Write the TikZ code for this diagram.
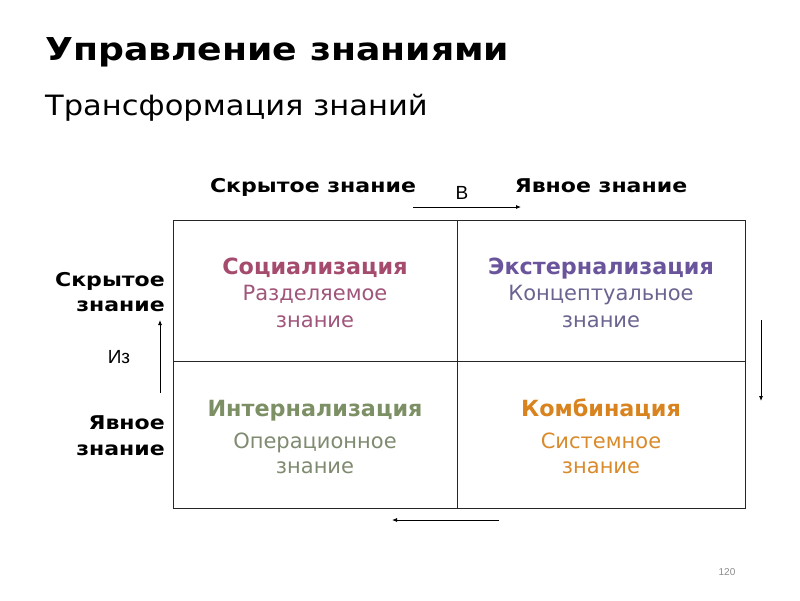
\documentclass[tikz,border=0pt]{standalone}
\usepackage{fontspec}
\setmainfont{DejaVu Sans}
\newfontfamily\arialf{Liberation Sans}
\newfontfamily\titlef[FakeStretch=1.15]{DejaVu Sans}
\newfontfamily\subf[FakeStretch=1.09]{DejaVu Sans}
\newfontfamily\hdrf[FakeStretch=1.16]{DejaVu Sans}
\usetikzlibrary{arrows.meta}
\definecolor{socc}{HTML}{A44B6E}
\definecolor{socl}{HTML}{A0557A}
\definecolor{extc}{HTML}{6A559C}
\definecolor{extl}{HTML}{6C6390}
\definecolor{intc}{HTML}{7D8F64}
\definecolor{intl}{HTML}{7F8B70}
\definecolor{comc}{HTML}{D8831E}
\definecolor{coml}{HTML}{D98B2C}
\tikzset{
  grid/.style={draw=black!85, line width=0.9pt},
  arr/.style={-{Latex[length=5pt,width=4pt]}, line width=0.8pt},
  hdr/.style={font=\hdrf\bfseries\fontsize{19}{22}\selectfont, anchor=base, inner sep=0pt},
  side/.style={font=\hdrf\bfseries\fontsize{19}{26}\selectfont, anchor=base east, inner sep=0pt},
  lbl/.style={font=\arialf\fontsize{19}{22}\selectfont, anchor=base, inner sep=0pt},
  ctitle/.style={font=\bfseries\fontsize{22.3}{24}\selectfont, anchor=base, inner sep=0pt},
  ctext/.style={font=\fontsize{21}{24}\selectfont, anchor=base, inner sep=0pt},
}
\begin{document}
\begin{tikzpicture}[x=1pt,y=-1pt]
\useasboundingbox[fill=white] (0,0) rectangle (800,600);
% titles
\node[anchor=base west, inner sep=0pt, font=\titlef\bfseries\fontsize{31.5}{36}\selectfont] (title) at (45,60) {Управление знаниями};
\node[anchor=base west, inner sep=0pt, font=\subf\fontsize{28}{34}\selectfont] (sub) at (45,115) {Трансформация знаний};
% table
\coordinate (tl) at (173,220);
\coordinate (br) at (745,508);
\draw[grid] (tl) rectangle (br);
\coordinate (vt) at (457,220);
\coordinate (vb) at (457,508);
\coordinate (hl) at (173,361);
\coordinate (hr) at (745,361);
\draw[grid] (vt) -- (vb);
\draw[grid] (hl) -- (hr);
% headers
\node[hdr] (h1) at (313,192) {Скрытое знание};
\node[hdr] (h2) at (601,192) {Явное знание};
\node[lbl] (vlab) at (462,199) {В};
\coordinate (ra) at (413,207);
\coordinate (rb) at (521,207);
\draw[arr] (ra) -- (rb);
% side labels
\node[side] (s1) at (165,286) {Скрытое};
\node[side] (s2) at (165,311) {знание};
\node[side] (s3) at (165,429) {Явное};
\node[side] (s4) at (165,455) {знание};
\node[lbl] (from) at (119,363) {Из};
\coordinate (ua) at (160,393);
\coordinate (ub) at (160,320);
\draw[arr] (ua) -- (ub);
% cells
\node[ctitle, text=socc] (c1t) at (315,274) {Социализация};
\node[ctext, text=socl] (c1a) at (315,300) {Разделяемое};
\node[ctext, text=socl] (c1b) at (315,327) {знание};
\node[ctitle, text=extc] (c2t) at (601,274) {Экстернализация};
\node[ctext, text=extl] (c2a) at (601,300) {Концептуальное};
\node[ctext, text=extl] (c2b) at (601,327) {знание};
\node[ctitle, text=intc] (c3t) at (315,416) {Интернализация};
\node[ctext, text=intl] (c3a) at (315,448) {Операционное};
\node[ctext, text=intl] (c3b) at (315,473) {знание};
\node[ctitle, text=comc] (c4t) at (601,416) {Комбинация};
\node[ctext, text=coml] (c4a) at (601,448) {Системное};
\node[ctext, text=coml] (c4b) at (601,473) {знание};
% right and bottom arrows
\coordinate (da) at (761,320);
\coordinate (db) at (761,401);
\draw[arr] (da) -- (db);
\coordinate (la) at (499,520);
\coordinate (lb) at (392,520);
\draw[arr] (la) -- (lb);
% page number
\node[anchor=base, inner sep=0pt, text=black!45, font=\arialf\fontsize{10}{12}\selectfont] (pg) at (727,575) {120};
\end{tikzpicture}
\end{document}
